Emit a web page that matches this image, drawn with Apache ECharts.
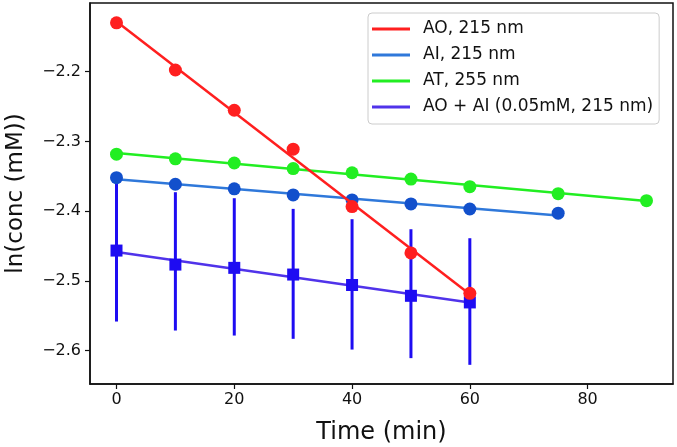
<!DOCTYPE html>
<html>
<head>
<meta charset="utf-8">
<script src="https://cdn.jsdelivr.net/npm/echarts@6/dist/echarts.min.js"></script>
<style>html,body{margin:0;padding:0;background:#fff}#c{width:677px;height:447px}</style>
</head>
<body>
<div id="c"></div>
<script>
// ---- data ----
const timeAO = [0, 10, 20, 30, 40, 50, 60];
const valAO = [-2.130, -2.1976, -2.2553, -2.3112, -2.3935, -2.460, -2.518];
const timeAI = [0, 10, 20, 30, 40, 50, 60, 75];
const valAI = [-2.352, -2.3615, -2.368, -2.3768, -2.384, -2.3897, -2.397, -2.403];
const timeAT = [0, 10, 20, 30, 40, 50, 60, 75, 90];
const valAT = [-2.3184, -2.325, -2.331, -2.339, -2.345, -2.354, -2.365, -2.375, -2.385];
const timeMix = [0, 10, 20, 30, 40, 50, 60];
const valMix = [-2.4566, -2.4767, -2.4814, -2.491, -2.506, -2.5215, -2.531];
const errLowMix = [-2.5584, -2.5713, -2.5785, -2.5832, -2.5986, -2.6109, -2.6205];
const errHighMix = [-2.3524, -2.3729, -2.3815, -2.3968, -2.4116, -2.4260, -2.4389];
const seriesNames = ['AO, 215 nm', 'AI, 215 nm', 'AT, 255 nm', 'AO + AI (0.05mM, 215 nm)'];
const xTicks = [0, 20, 40, 60, 80];
const yTicks = [-2.6, -2.5, -2.4, -2.3, -2.2];

// least-squares fit line from the data points (end points at first and last time)
function fit(xs, ys) {
  const n = xs.length;
  const mx = xs.reduce((a, b) => a + b, 0) / n;
  const my = ys.reduce((a, b) => a + b, 0) / n;
  let sxy = 0, sxx = 0;
  for (let i = 0; i < n; i++) { sxy += (xs[i] - mx) * (ys[i] - my); sxx += (xs[i] - mx) ** 2; }
  const k = sxy / sxx, b = my - k * mx;
  const x0 = xs[0], x1 = xs[n - 1];
  return [[x0, k * x0 + b], [x1, k * x1 + b]];
}
const zip = (a, b) => a.map((v, i) => [v, b[i]]);

const FONT = 'DejaVu Sans';
const colAO = '#ff1f1f', colAIline = '#2f78da', colAIdot = '#1250cc';
const colAT = '#22ee22', colMixLine = '#5033ea', colMix = '#1e0cf2';

function lineSeries(name, xs, ys, color, z) {
  return { name: name, type: 'line', data: fit(xs, ys), symbol: 'none', z: z,
    lineStyle: { color: color, width: 2.5 }, itemStyle: { color: color }, silent: true, animation: false };
}
function dotSeries(xs, ys, color, symbol, size, z) {
  return { type: 'scatter', data: zip(xs, ys), symbol: symbol, symbolSize: size, z: z,
    itemStyle: { color: color, opacity: 1 }, animation: false };
}

const chart = echarts.init(document.getElementById('c'), null, { renderer: 'canvas' });
chart.setOption({
  animation: false,
  textStyle: { fontFamily: FONT },
  grid: { left: 90, right: 4, top: 3, bottom: 63, containLabel: false, outerBoundsMode: 'none',
    show: true, borderColor: '#111', borderWidth: 1.5, backgroundColor: 'transparent' },
  legend: {
    orient: 'vertical', left: 368, top: 13,
    data: seriesNames.map((n, i) => ({ name: n, itemStyle: { color: [colAO, colAIline, colAT, colMixLine][i] } })),
    icon: 'rect', itemWidth: 38, itemHeight: 3, itemGap: 0,
    padding: [3, 6, 4, 4],
    borderColor: '#cccccc', borderWidth: 1, borderRadius: 4, backgroundColor: '#fff',
    textStyle: { fontFamily: FONT, fontSize: 17, color: '#111', lineHeight: 26, padding: [0, 0, 0, 8] },
    selectedMode: false
  },
  xAxis: {
    type: 'value', min: -4.5, max: 94.5,
    name: 'Time (min)', nameLocation: 'middle', nameGap: 37,
    nameTextStyle: { fontFamily: FONT, fontSize: 24, color: '#111' },
    axisLine: { show: true, onZero: false, lineStyle: { color: '#111', width: 1.5 } },
    axisTick: { show: true, length: 5, lineStyle: { color: '#111', width: 1.2 }, customValues: xTicks },
    axisLabel: { customValues: xTicks, fontFamily: FONT, fontSize: 16, color: '#111', margin: 8 },
    splitLine: { show: false }
  },
  yAxis: {
    type: 'value', min: -2.648, max: -2.1015,
    name: 'ln(conc (mM))', nameLocation: 'middle', nameGap: 62,
    nameTextStyle: { fontFamily: FONT, fontSize: 23, color: '#111' },
    axisLine: { show: true, onZero: false, lineStyle: { color: '#111', width: 1.5 } },
    axisTick: { show: true, length: 5, lineStyle: { color: '#111', width: 1.2 }, customValues: yTicks },
    axisLabel: { customValues: yTicks, fontFamily: FONT, fontSize: 16, color: '#111', margin: 9,
      formatter: v => v.toFixed(1).replace('-', '\u2212') },
    splitLine: { show: false }
  },
  series: [
    {
      type: 'custom', z: 2, silent: true,
      data: timeMix.map((t, i) => [t, errLowMix[i], errHighMix[i]]),
      encode: { x: 0, y: [1, 2] },
      renderItem: function (params, api) {
        const p1 = api.coord([api.value(0), api.value(1)]);
        const p2 = api.coord([api.value(0), api.value(2)]);
        return { type: 'line', shape: { x1: p1[0], y1: p1[1], x2: p2[0], y2: p2[1] },
          style: { stroke: colMix, lineWidth: 3 } };
      }
    },
    lineSeries(seriesNames[3], timeMix, valMix, colMixLine, 3),
    dotSeries(timeMix, valMix, colMix, 'rect', 12, 4),
    lineSeries(seriesNames[2], timeAT, valAT, colAT, 3),
    dotSeries(timeAT, valAT, colAT, 'circle', 13, 4),
    lineSeries(seriesNames[1], timeAI, valAI, colAIline, 3),
    dotSeries(timeAI, valAI, colAIdot, 'circle', 13, 4),
    dotSeries(timeAO, valAO, colAO, 'circle', 13, 4),
    lineSeries(seriesNames[0], timeAO, valAO, colAO, 5)
  ]
});
</script>
</body>
</html>
